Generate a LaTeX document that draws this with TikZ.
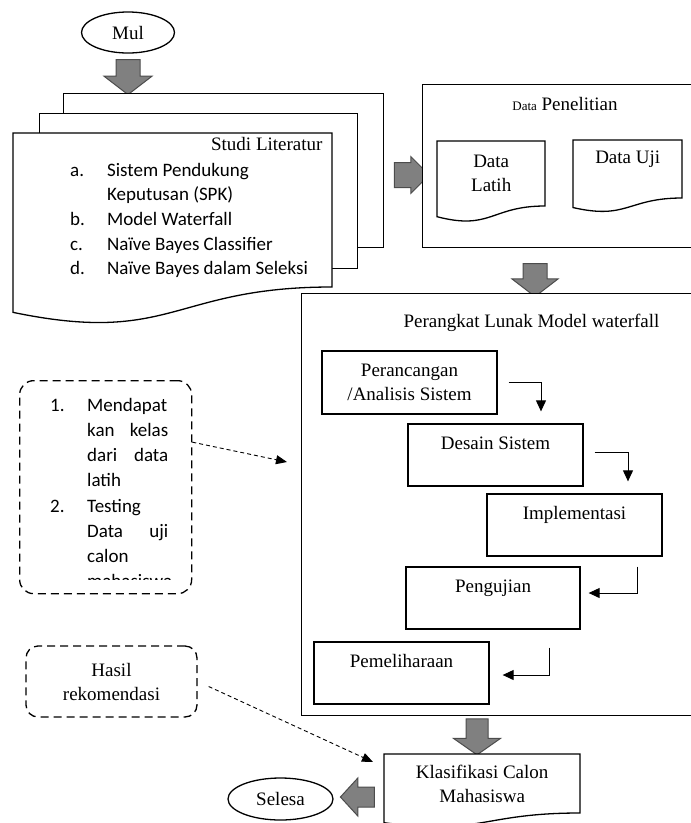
\documentclass[tikz,border=0pt]{standalone}
\usepackage{fontspec}
\setmainfont{Liberation Serif}
\newfontfamily\calibri{Carlito}
\usetikzlibrary{shapes.geometric, shapes.arrows, arrows.meta, calc}

\tikzset{
  box/.style={draw, line width=1.3pt, fill=white, inner sep=0pt, align=center},
  terminal/.style={draw, ellipse, line width=1.3pt, inner sep=0pt},
  doc/.style={draw, line width=1.3pt, fill=white},
  fat/.style={single arrow, draw=black!70, fill=black!50, line width=1pt, inner xsep=0pt, single arrow head indent=0pt},
  flow/.style={line width=1pt, -{Triangle[length=11pt,width=10pt]}},
  note/.style={draw, line width=1.3pt, dash pattern=on 8pt off 5pt, rounded corners=14pt, inner sep=0pt},
  hint/.style={line width=0.9pt, dash pattern=on 4pt off 3pt, -{Triangle[length=11pt,width=9pt]}},
}

% document shape: name, left, top, width, height of the straight part, text
\newcommand{\docnode}[6]{%
  \pgfmathsetmacro\dR{#2+#4}%
  \pgfmathsetmacro\dB{#3+#5}%
  \pgfmathsetmacro\dM{#2+#4/2}%
  \pgfmathsetmacro\dL{#3+1.1646*#5}%
  \pgfmathsetmacro\dC{#3+1.38*#5}%
  \filldraw[doc] (#2,#3) -- (\dR,#3) -- (\dR,\dB)
    .. controls (\dM,\dB) and (\dM,\dC) .. (#2,\dL) -- cycle;
  \node[inner sep=0pt, align=center, minimum width=#4, minimum height=#5, anchor=north west] (#1) at (#2,#3) {#6};}

\begin{document}
\begin{tikzpicture}[x=1pt, y=-1pt, font=\fontsize{19}{24}\selectfont]
\useasboundingbox (0,0) rectangle (691,823);

% start
\node[terminal, minimum width=93pt, minimum height=41pt] (mul) at (128,32.5) {Mul};
\node[fat, rotate=-90, minimum height=35pt, minimum width=47pt, inner ysep=11.5pt, single arrow head extend=12pt, single arrow tip angle=105] (a1) at (128,72.5) {};

% literature pages
\node[box, minimum width=320pt, minimum height=154pt, anchor=north west] (page3) at (63,93) {};
\node[box, minimum width=318pt, minimum height=155pt, anchor=north west] (page2) at (39,113) {};
\docnode{studi}{13}{133}{319}{154}{}
\node[anchor=base east] (studititle) at (326,150) {Studi Literatur};
\node[anchor=north west, inner sep=0pt, font=\calibri\fontsize{19}{24.7}\selectfont] (studilist) at (70,158.7) {%
  \begin{tabular}{@{}l@{}l@{}}
  \makebox[37pt][l]{a.} & Sistem Pendukung\\
   & Keputusan (SPK)\\
  \makebox[37pt][l]{b.} & Model Waterfall\\
  \makebox[37pt][l]{c.} & Naïve Bayes Classifier\\
  \makebox[37pt][l]{d.} & Naïve Bayes dalam Seleksi
  \end{tabular}};

% research data
\node[fat, minimum height=35pt, minimum width=36pt, inner ysep=12pt, single arrow head extend=6pt, single arrow tip angle=90] (a2) at (405.5,175) {};
\node[box, minimum width=290pt, minimum height=163pt, anchor=north west] (data) at (422,84) {};
\node[anchor=base] (datatitle) at (565,110) {{\fontsize{13}{15}\selectfont Data} Penelitian};
\docnode{latih}{437}{141}{108}{65}{Data\\Latih}
\docnode{uji}{573}{140}{109}{58}{Data Uji\\\mbox{}}

% waterfall
\node[fat, rotate=-90, minimum height=33pt, minimum width=45pt, inner ysep=11.5pt, single arrow head extend=11pt, single arrow tip angle=105] (a3) at (535,275.5) {};
\node[box, minimum width=420pt, minimum height=422pt, anchor=north west] (wf) at (301,293) {};
\node[anchor=base] (wftitle) at (531.5,327) {Perangkat Lunak Model waterfall};

\node[box, minimum width=175pt, minimum height=63pt] (p1) at (409.5,382.5) {Perancangan\\/Analisis Sistem};
\node[box, minimum width=175pt, minimum height=62pt] (p2) at (495.5,455) {Desain Sistem\\\mbox{}};
\node[box, minimum width=175pt, minimum height=62pt] (p3) at (574.5,525) {Implementasi\\\mbox{}};
\node[box, minimum width=174pt, minimum height=62pt] (p4) at (493,598) {Pengujian\\\mbox{}};
\node[box, minimum width=175pt, minimum height=62pt] (p5) at (401.5,673) {Pemeliharaan\\\mbox{}};

\draw[flow] ([shift={(11,0)}]p1.east) -| ([shift={(45.5,-12)}]p2.north);
\draw[flow] ([shift={(11,-3)}]p2.east) -| ([shift={(53.5,-12)}]p3.north);
\draw[flow] ([shift={(62.5,10)}]p3.south) |- ([shift={(8,-5)}]p4.east);
\draw[flow] ([shift={(56,18)}]p4.south) |- ([shift={(13,2)}]p5.east);

% result
\node[fat, rotate=-90, minimum height=36pt, minimum width=46pt, inner ysep=10.5pt, single arrow head extend=12.5pt, single arrow tip angle=110] (a4) at (477,733) {};
\docnode{klas}{384}{754}{196}{59}{Klasifikasi Calon\\Mahasiswa}
\node[fat, rotate=180, minimum height=34pt, minimum width=37pt, inner ysep=9.5pt, single arrow head extend=9pt, single arrow tip angle=95] (a5) at (362,797) {};
\node[terminal, minimum width=105pt, minimum height=42pt] (selesa) at (280.5,799) {Selesa};

% notes
\node[note, minimum width=172pt, minimum height=213pt, anchor=north west] (note1) at (19,380) {};
\begin{scope}
  \clip (19,380) rectangle (191,579);
  \node[anchor=north west, inner sep=0pt, font=\calibri\fontsize{19}{25.2}\selectfont] (steps) at (50,393.5) {%
    \begin{tabular}{@{}l@{}l@{}}
    \makebox[37pt][l]{1.} & \makebox[81pt][l]{Mendapat}\\
     & \makebox[81pt][s]{kan kelas}\\
     & \makebox[81pt][s]{dari data}\\
     & \makebox[81pt][l]{latih}\\
    \makebox[37pt][l]{2.} & \makebox[81pt][l]{Testing}\\
     & \makebox[81pt][s]{Data uji}\\
     & \makebox[81pt][l]{calon}\\
     & \makebox[81pt][l]{mahasiswa}
    \end{tabular}};
\end{scope}
\node[note, minimum width=171pt, minimum height=71pt, align=center, rounded corners=12pt] (note2) at (111.5,681.5) {Hasil\\rekomendasi};

\coordinate (hintend) at (287,462);
\draw[hint] ($(note1.north east)!0.29!(note1.south east)$) -- (hintend);
\draw[hint] ([shift={(11,5)}]note2.east) -- ([shift={(-11,8)}]klas.north west);
\end{tikzpicture}
\end{document}
